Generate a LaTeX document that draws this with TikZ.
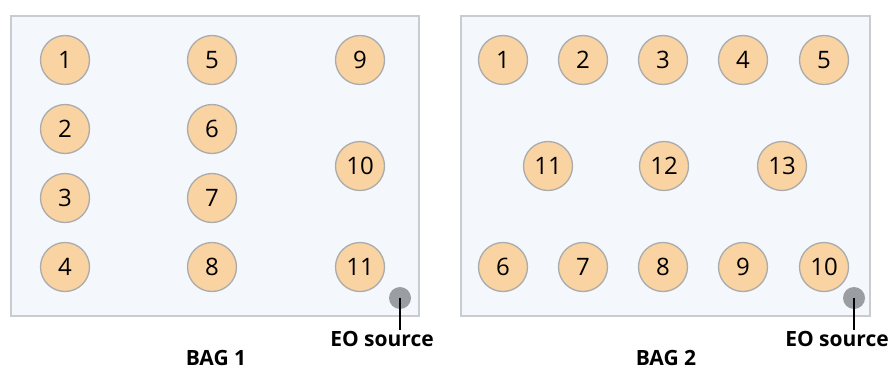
\documentclass[tikz,border=0pt]{standalone}
\usepackage{fontspec}
\setmainfont{Open Sans}
\usepackage{xcolor}
\usepackage{tikz}
\definecolor{bagfill}{HTML}{F4F8FC}
\definecolor{bagline}{HTML}{C9CBCE}
\definecolor{itemfill}{HTML}{F9D3A2}
\definecolor{itemline}{HTML}{ABABAB}
\definecolor{srcfill}{HTML}{9A9DA2}
\tikzset{bag/.style={fill=bagfill, draw=bagline, line width=1.3pt},
         item/.style={circle, fill=itemfill, draw=itemline, line width=1.3pt,
         minimum size=49pt, inner sep=0pt, font=\fontsize{24}{24}\selectfont},
         eodot/.style={circle, fill=srcfill, minimum size=22pt, inner sep=0pt},
         tag/.style={font=\fontsize{21}{21}\selectfont\bfseries, inner sep=1pt}}

\begin{document}
\begin{tikzpicture}[x=1pt, y=-1pt]
\useasboundingbox (0,0) rectangle (891,369);
% bag 1
\draw[bag] (11,16) rectangle (419,316);
\node[item] (a1) at (65,60) {1};
\node[item] (a2) at (65,129) {2};
\node[item] (a3) at (65,198) {3};
\node[item] (a4) at (65,267) {4};
\node[item] (a5) at (212,60) {5};
\node[item] (a6) at (212,129) {6};
\node[item] (a7) at (212,198) {7};
\node[item] (a8) at (212,267) {8};
\node[item] (a9) at (360,60) {9};
\node[item] (a10) at (360,166) {10};
\node[item] (a11) at (360,267) {11};
\node[eodot] (eo1) at (400,298) {};
\node[tag] (src1) at (382,339) {EO source};
\draw[line width=1.6pt] (eo1.center) -- (eo1.center |- src1.north);
\node[tag] (bag1) at (216,358) {BAG 1};
% bag 2
\draw[bag] (461,16) rectangle (870,316);
\node[item] (b1) at (503,60) {1};
\node[item] (b2) at (583,60) {2};
\node[item] (b3) at (663,60) {3};
\node[item] (b4) at (743,60) {4};
\node[item] (b5) at (824,60) {5};
\node[item] (b11) at (548,166) {11};
\node[item] (b12) at (664,166) {12};
\node[item] (b13) at (782,166) {13};
\node[item] (b6) at (503,267) {6};
\node[item] (b7) at (583,267) {7};
\node[item] (b8) at (663,267) {8};
\node[item] (b9) at (743,267) {9};
\node[item] (b10) at (824,267) {10};
\node[eodot] (eo2) at (854,298) {};
\node[tag] (src2) at (837,339) {EO source};
\draw[line width=1.6pt] (eo2.center) -- (eo2.center |- src2.north);
\node[tag] (bag2) at (666,358) {BAG 2};
\end{tikzpicture}
\end{document}
